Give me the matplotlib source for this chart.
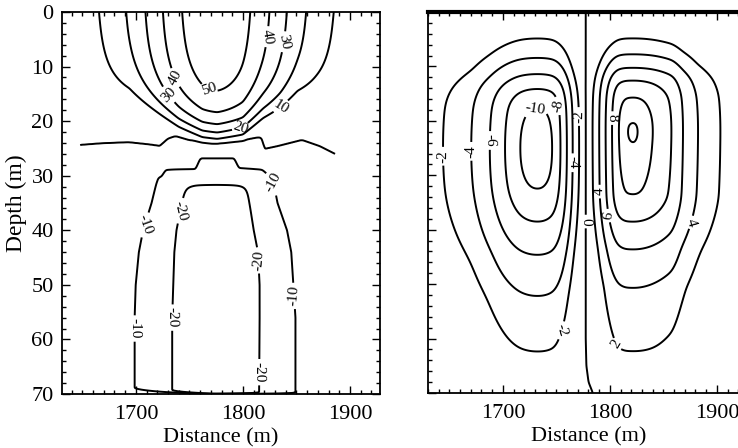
import numpy as np
import matplotlib
matplotlib.use("Agg")
import matplotlib.pyplot as plt
from matplotlib.ticker import MultipleLocator

plt.rcParams['font.family'] = ['Liberation Serif', 'DejaVu Serif']

# ---------------- left panel: along-channel velocity ----------------
u_levels = [-20, -10, 0, 10, 20, 30, 40, 50]

# surface jet: peak speed, centre and e-folding half width (m)
jet_peak = 57.7
jet_center = 1775.0
jet_width = 80.6
# depth of the jet base below which the jet has vanished
base_x = [1648, 1666, 1694, 1718, 1740, 1762, 1776, 1800, 1819, 1835, 1851, 1869, 1886]
base_z = [16.0, 16.3, 17.0, 19.7, 22.2, 23.9, 24.2, 23.5, 20.7, 19.2, 17.0, 16.5, 16.3]
base_scale = 5.0

# zero-velocity interface
zero_x = [1648, 1668, 1693, 1712, 1723, 1731, 1737, 1749, 1771, 1799, 1812, 1816,
          1819, 1833, 1855, 1871, 1886]
zero_z = [24.5, 24.2, 24.0, 24.4, 24.7, 23.3, 22.9, 23.6, 24.1, 23.7, 23.2, 23.1,
          25.3, 24.7, 23.6, 24.7, 26.2]

# return flow: depth of the top of the -10 and -20 isotachs
top_x = [1648, 1724, 1728, 1756, 1760, 1792, 1796, 1818, 1828, 1886]
top10 = [30.0, 30.0, 28.9, 28.8, 26.8, 26.8, 28.6, 28.9, 30.5, 31.0]
top20 = [32.5, 32.5, 32.0, 31.7, 31.7, 31.7, 31.7, 31.8, 32.5, 32.5]
# return flow: flanks of the -10 and -20 isotachs by depth
side_z = [27, 31, 35, 40, 44, 50, 56, 70]
left10 = [1722, 1720, 1715, 1707, 1703, 1700, 1699, 1699]
left20 = [1748, 1747, 1743, 1738, 1736, 1735, 1734, 1734]
right20 = [1802, 1803, 1806, 1810, 1814, 1815.5, 1815.5, 1815]
right10 = [1826, 1828, 1832, 1841, 1845, 1847, 1849, 1849]
core_speed = 35.0
# bottom boundary-layer thickness
bbl_x = [1648, 1700, 1740, 1770, 1886]
bbl_h = [1.6, 1.0, 0.5, 0.12, 0.1]

# ---------------- right panel: streamfunction ----------------
psi_levels = [-10, -8, -6, -4, -2, 0, 2, 4, 6, 8, 10, 12]

# dividing streamline between the two cells
front_z = [0, 60, 65, 68, 70]
front_x = [1777.4, 1777.4, 1778.0, 1780.0, 1784.0]

# western (negative) cell: isoline value against ring index
west_ring = [0, 1, 2, 3, 4, 5, 6, 9]
west_val = [11.6, 10, 8, 6, 4, 2, 0.5, 0.05]
# ring crossings: distance west of the front at the cell's mid depth ...
west_d = [0, 6.4, 12.4, 17.4, 23.4, 30.4, 45, 61.4, 75.4, 89.4, 106.4, 133.4, 150]
west_dr = [-6, -5, -4, -3, -2, -1, 0, 1, 2, 3, 4, 5, 5.7]
# ... and depth down the cell's centre
west_z = [0, 5.1, 8.5, 11.5, 14, 17.4, 25, 32.6, 38.5, 44.5, 52, 62.5, 70]
west_zr = [-6, -5, -4, -3, -2, -1, 0, 1, 2, 3, 4, 5, 6]

# eastern (positive) cell
east_ring = [0, 0.25, 1, 2, 3, 4, 5, 6, 9]
east_val = [12.4, 12, 10, 8, 6, 4, 2, 0.5, 0.05]
east_d = [0, 6.6, 12.6, 18.6, 24.6, 30.6, 38.6, 44.6, 48.6, 62.6, 80.6, 90.6, 104.6,
          125.6, 155]
east_dr = [-6, -5, -4, -3, -2, -1, -0.25, 0, 0.25, 1, 2, 3, 4, 5, 6.2]
east_z = [0, 5.1, 7.8, 10.3, 12.5, 15.5, 20.3, 22.0, 23.8, 33.8, 38.5, 43.5, 50.5,
          62.5, 70]
east_zr = [-6, -5, -4, -3, -2, -1, -0.25, 0, 0.25, 1, 2, 3, 4, 5, 6.2]
ring_norm = 2.2


def gauss1d(v, s):
    r = int(3 * s) + 1
    k = np.exp(-0.5 * (np.arange(-r, r + 1) / s) ** 2)
    k /= k.sum()
    return np.convolve(np.pad(v, r, mode='edge'), k, mode='valid')


def smooth(a, sx, sz):
    """Separable Gaussian smoothing (sigmas in grid cells)."""
    a = np.apply_along_axis(gauss1d, 1, a, sx)
    return np.apply_along_axis(gauss1d, 0, a, sz)


def ring_map(v, grid, knots, rings, s):
    """Smoothed monotone map from a coordinate to ring index."""
    return np.interp(v, grid, gauss1d(np.interp(grid, knots, rings), s))


# ---- build the velocity section ----
xs = np.arange(1648, 1886.01, 0.5)
zs = np.arange(0, 70.001, 0.1)
XX, ZZ = np.meshgrid(xs, zs)

z0 = np.interp(xs, zero_x, zero_z)
base = np.interp(xs, base_x, base_z)
gx = jet_peak * np.exp(-((xs - jet_center) / jet_width) ** 2)
upper = gx[None, :] * (1 - np.exp(-np.clip(base[None, :] - ZZ, 0, None) / base_scale)) \
    + 0.05 * (z0[None, :] - ZZ)

t10 = np.interp(xs, top_x, top10)
t20 = np.interp(xs, top_x, top20)
Fz = np.empty_like(XX)
for j in range(len(xs)):
    Fz[:, j] = np.interp(zs, [z0[j], t10[j], t20[j], t20[j] + 5.0, 70.0],
                         [0, 10, 20, 40, 45])
Fx = np.empty_like(XX)
for i, z in enumerate(zs):
    a = np.interp(z, side_z, left10)
    b = np.interp(z, side_z, left20)
    c = np.interp(z, side_z, right20)
    d = np.interp(z, side_z, right10)
    Fx[i] = np.interp(xs, [xs[0], a, b, 0.5 * (b + c), c, d, xs[-1]],
                      [0, 10, 20, core_speed, 20, 10, 0])
p = 8.0
eps = 1e-6
F = (np.maximum(Fx, eps) ** -p + np.maximum(Fz, eps) ** -p) ** (-1 / p)
F = np.where((Fx <= eps) | (Fz <= eps), 0.0, F)
bbl = np.interp(xs, bbl_x, bbl_h)
F *= np.clip((70.0 - ZZ) / bbl[None, :], 0, 1)
u = np.where(ZZ < z0[None, :], upper, -F)
u = smooth(u, 2.0, 1.0)

# ---- build the streamfunction section ----
xr = np.arange(1630, 1930.01, 0.5)
zr = np.arange(0, 70.001, 0.1)
XR, ZR = np.meshgrid(xr, zr)
front = np.interp(zr, front_z, front_x)[:, None]
dist = XR - front
dgrid = np.arange(0, 200.01, 0.5)

xi_w = ring_map(-dist, dgrid, west_d, west_dr, 6.0)
eta_w = ring_map(zr, zr, west_z, west_zr, 12.0)[:, None]
r_w = (np.abs(xi_w) ** ring_norm + np.abs(eta_w) ** ring_norm) ** (1 / ring_norm)
west = -np.interp(r_w, west_ring, west_val) * np.clip(-dist / 1.5, 0, 1)

xi_e = ring_map(dist, dgrid, east_d, east_dr, 4.0)
eta_e = ring_map(zr, zr, east_z, east_zr, 8.0)[:, None]
r_e = (np.abs(xi_e) ** ring_norm + np.abs(eta_e) ** ring_norm) ** (1 / ring_norm)
east = np.interp(r_e, east_ring, east_val) * np.clip(dist / 1.5, 0, 1)

psi = np.where(dist < 0, west, east)
psi = smooth(psi, 2.0, 3.0)

# ---------------- figure ----------------
fig = plt.figure(figsize=(7.38, 4.48), dpi=100)
ax1 = fig.add_axes([62 / 738, 54 / 448, 318 / 738, 382 / 448])
ax2 = fig.add_axes([428 / 738, 55 / 448, 321 / 738, 381 / 448])

lw = 1.4
cs1 = ax1.contour(XX, ZZ, u, levels=u_levels, colors='black', linewidths=lw,
                  linestyles='solid')
cs2 = ax2.contour(XR, ZR, psi, levels=psi_levels, colors='black', linewidths=lw,
                  linestyles='solid')

lab1 = [(1729, 15.5), (1737, 12.0), (1768, 14.5), (1822, 4.5), (1839, 5.5),
        (1836, 17.5), (1797, 20.5), (1703, 38.5), (1699, 58.0), (1831, 31.0),
        (1849, 52.0), (1743, 36.5), (1734, 56.0), (1815, 45.5), (1814, 66.0)]
ax1.clabel(cs1, inline=True, fmt='%d', fontsize=11, manual=lab1, inline_spacing=3)

lab2 = [(1644, 26.5), (1671, 25.6), (1688, 23.6), (1730, 17.5), (1747, 17.4),
        (1770, 19.2), (1767, 27.7), (1790, 33.0), (1796, 37.5), (1777, 38.5),
        (1803, 19.5), (1760, 58.8), (1812, 60.4), (1877, 38.7)]
ax2.clabel(cs2, inline=True, fmt='%d', fontsize=11, manual=lab2, inline_spacing=3)

for ax, xl in ((ax1, (1631, 1928)), (ax2, (1630, 1930))):
    ax.set_xlim(*xl)
    ax.set_ylim(70, 0)
    ax.xaxis.set_major_locator(MultipleLocator(100))
    ax.xaxis.set_minor_locator(MultipleLocator(10))
    ax.yaxis.set_major_locator(MultipleLocator(10))
    ax.yaxis.set_minor_locator(MultipleLocator(2))
    ax.tick_params(which='both', direction='in', top=True, right=True,
                   labelsize=16, width=1.0, pad=6)
    ax.tick_params(axis='x', which='major', pad=8)
    ax.tick_params(which='major', length=6)
    ax.tick_params(which='minor', length=3)
    for s in ax.spines.values():
        s.set_linewidth(1.3)
    ax.set_xlabel('Distance (m)', fontsize=16, labelpad=3)

ax1.set_ylabel('Depth (m)', fontsize=17, labelpad=3)
ax2.tick_params(labelleft=False)
ax2.spines['top'].set_linewidth(3.0)

fig.savefig('out.png', dpi=100, facecolor='white')
